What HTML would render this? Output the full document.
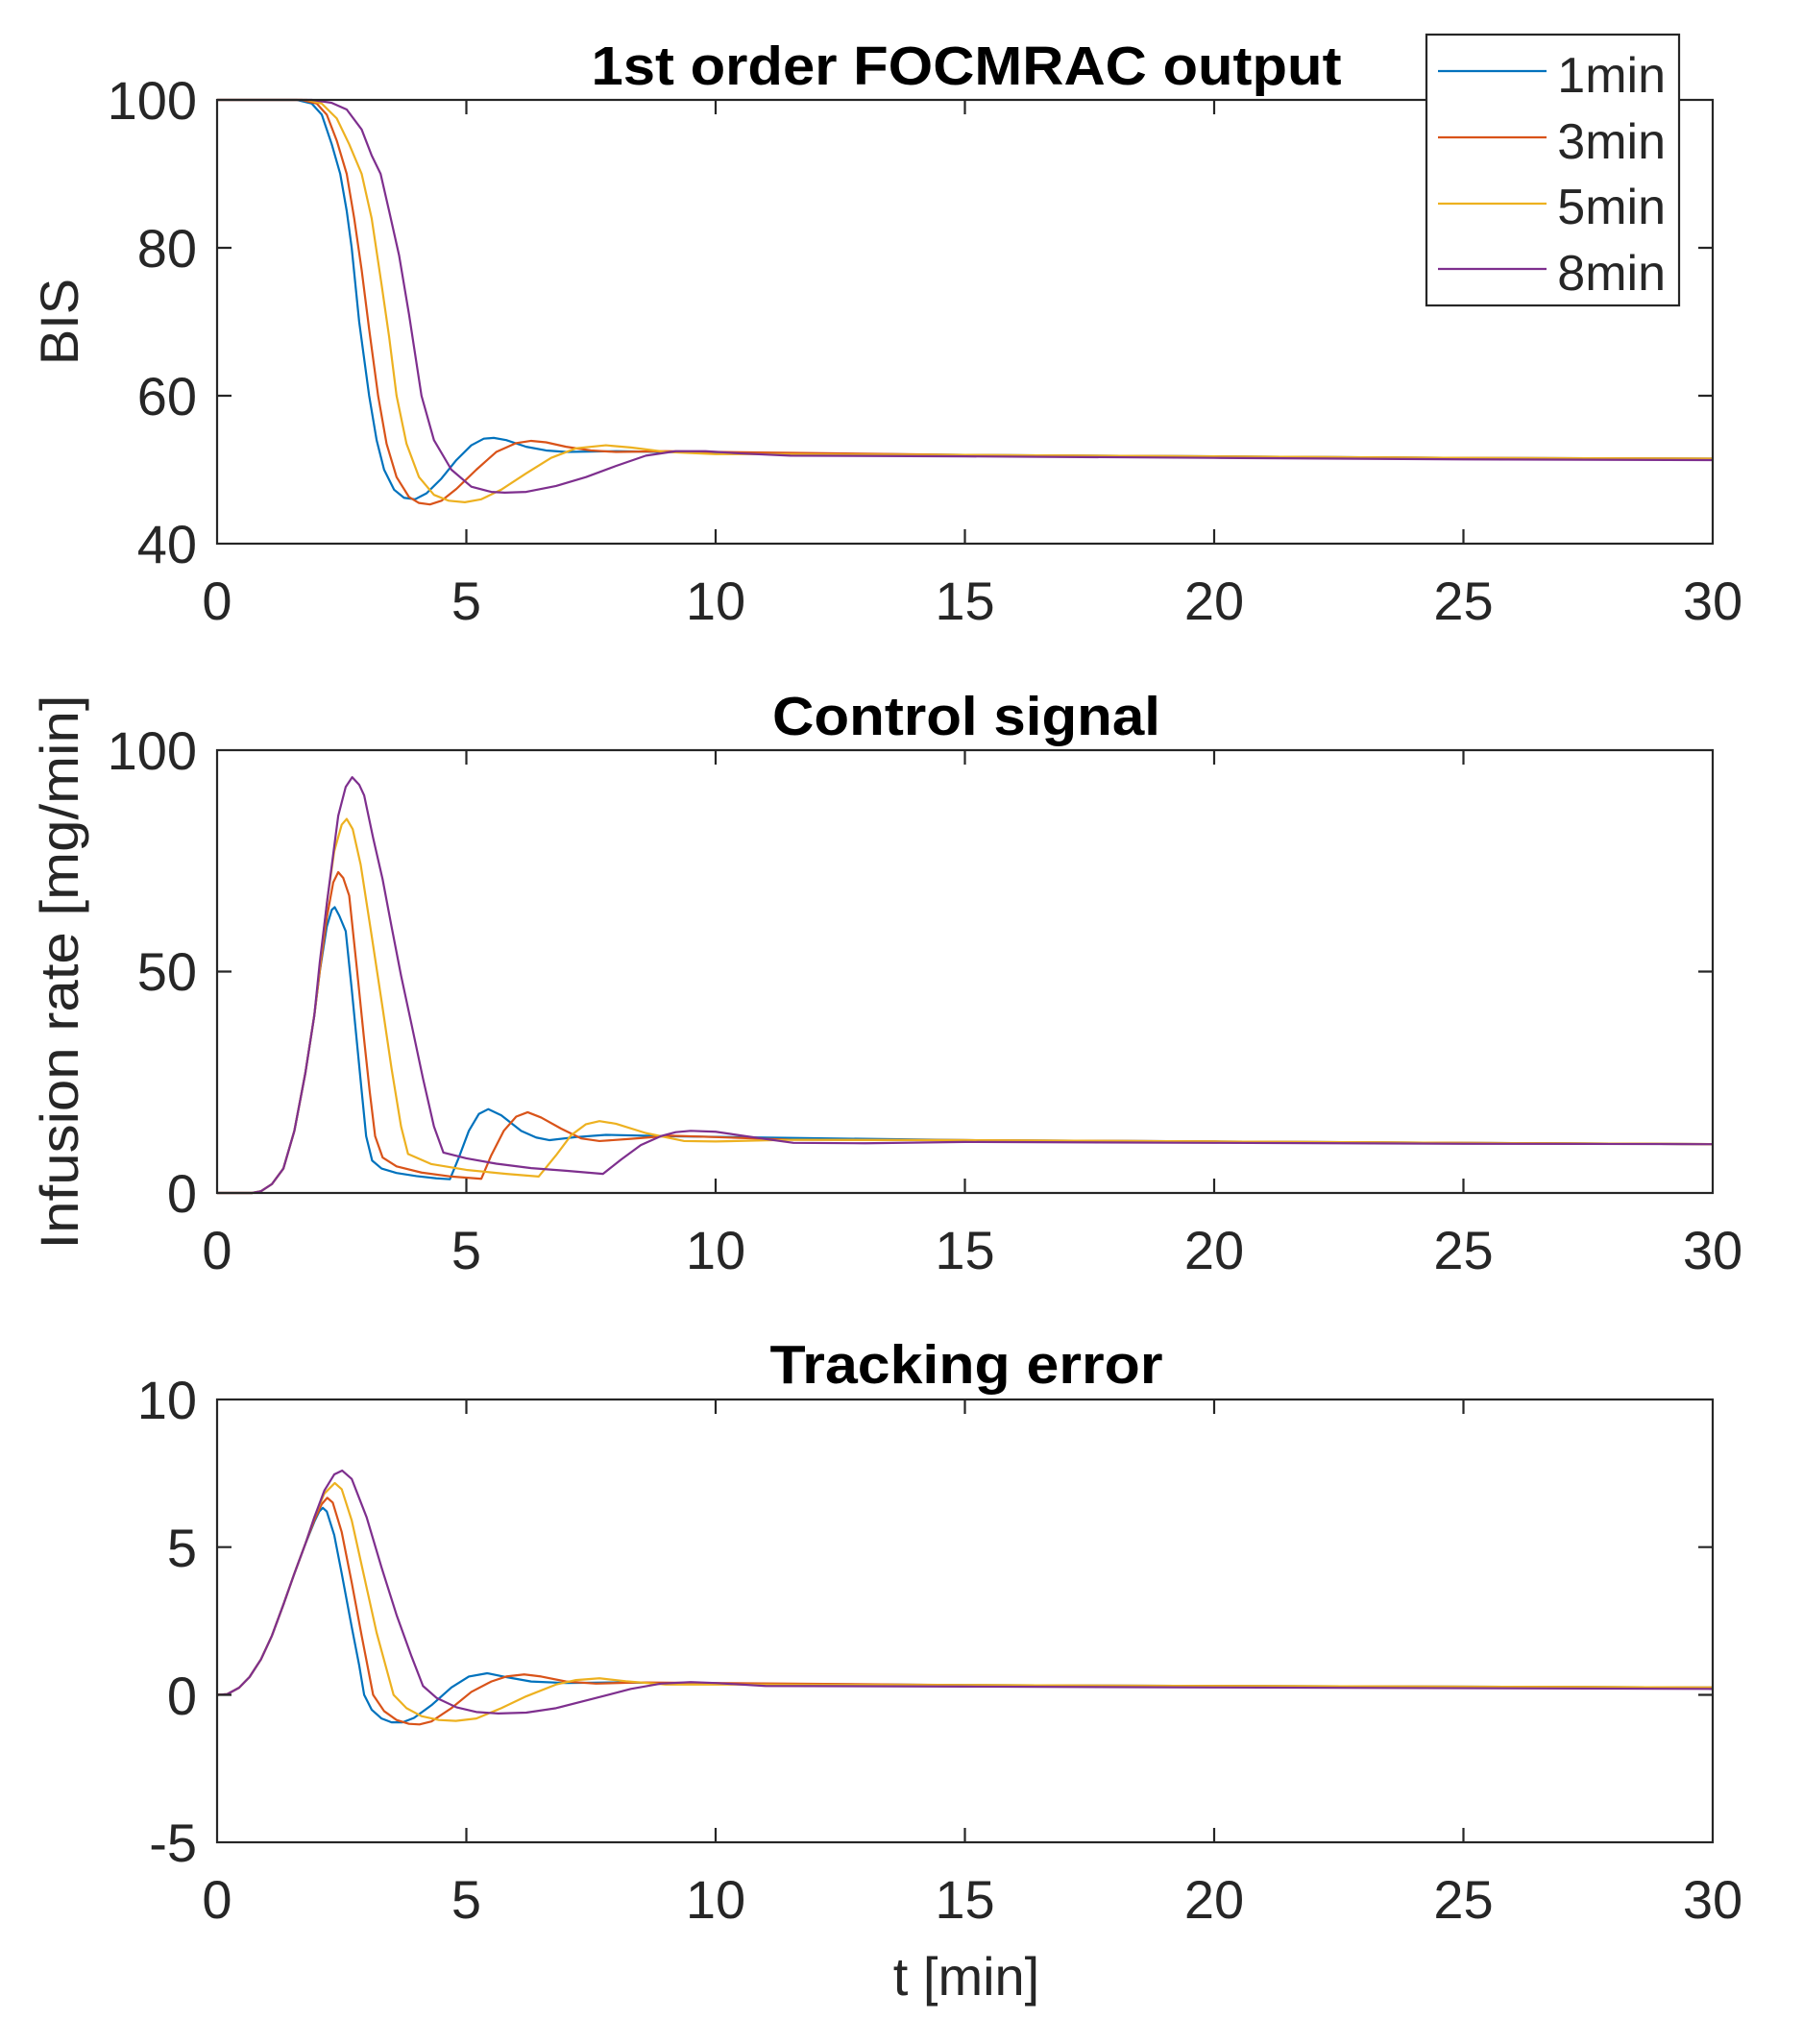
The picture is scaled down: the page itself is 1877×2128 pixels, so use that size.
<!DOCTYPE html>
<html><head><meta charset="utf-8"><style>
html,body{margin:0;padding:0;background:#fff;}
svg{display:block;}
text{font-family:"Liberation Sans",Arial,sans-serif;fill:#262626;}
.tk{font-size:56px;}
.tt{font-size:57px;font-weight:bold;fill:#000;}
.lg{font-size:52px;fill:#000;}
.ln{fill:none;stroke-width:2.2;vector-effect:non-scaling-stroke;stroke-linejoin:round;}
.b{stroke:#0072BD}.r{stroke:#D95319}.y{stroke:#EDB120}.p{stroke:#7E2F8E}
</style></head><body>
<svg width="1877" height="2128" viewBox="0 0 1877 2128" xmlns="http://www.w3.org/2000/svg">
<rect width="1877" height="2128" fill="#fff"/>

<g transform="translate(226,104) scale(51.9,-7.7) translate(0,-100)">
<polyline class="ln b" points="0,100 1.6,100 1.9,99.5 2.1,98 2.3,94 2.47,90 2.6,85 2.7,80 2.85,70 3.05,60 3.2,54 3.35,50 3.55,47.3 3.75,46.2 3.97,46 4.2,46.8 4.5,48.8 4.8,51.3 5.1,53.3 5.35,54.2 5.55,54.3 5.8,54 6.2,53.1 6.6,52.6 7,52.4 8,52.5 9,52.4 10,52.3 15,52 20,51.8 25,51.6 30,51.5"/>
<polyline class="ln r" points="0,100 1.7,100 2,99.5 2.2,98 2.4,94.5 2.6,90 2.75,84 2.9,77 3.05,69 3.23,60 3.4,53.5 3.6,49 3.85,46.3 4.05,45.5 4.27,45.3 4.5,45.8 4.8,47.4 5.2,50 5.6,52.4 6,53.6 6.3,53.9 6.6,53.7 7,53.1 7.5,52.6 8,52.4 9,52.5 10,52.4 15,52 20,51.8 25,51.6 30,51.5"/>
<polyline class="ln y" points="0,100 1.8,100 2.1,99.5 2.4,97.5 2.65,94 2.9,90 3.1,84 3.3,75 3.45,68 3.6,60 3.8,53.5 4.05,49 4.35,46.6 4.65,45.8 4.97,45.6 5.3,46 5.7,47.3 6.2,49.5 6.7,51.6 7.2,52.9 7.8,53.3 8.3,53 9,52.4 10,52.1 11,52.1 15,52 20,51.8 25,51.6 30,51.5"/>
<polyline class="ln p" points="0,100 1.9,100 2.3,99.6 2.6,98.7 2.9,96 3.1,92.5 3.28,90 3.45,85 3.65,79 3.85,71 4.1,60 4.35,54 4.7,50 5.1,47.7 5.5,47 5.77,46.9 6.2,47 6.8,47.8 7.4,49 8,50.5 8.6,51.9 9.2,52.5 9.8,52.5 10.5,52.2 11.5,51.9 15,51.8 20,51.6 25,51.4 30,51.3"/>
</g>

<g transform="translate(226,1242) scale(51.9,-4.62)">
<polyline class="ln b" points="0,0 0.7,0 0.88,0.4 1.1,2 1.33,5.5 1.55,14 1.77,27 1.95,40 2.06,50 2.2,60 2.3,63.8 2.36,64.4 2.45,62.5 2.58,59 2.7,46 2.8,34.5 2.9,23 2.99,12.8 3.11,7.3 3.3,5.5 3.6,4.5 4.0,3.8 4.4,3.3 4.67,3.1 4.85,8 5.05,14 5.25,17.8 5.44,18.9 5.7,17.5 6.1,14 6.4,12.5 6.67,11.9 7.2,12.6 7.8,13.1 9,12.8 11.56,12.4 15,11.9 20,11.6 25,11.3 30,11"/>
<polyline class="ln r" points="0,0 0.7,0 0.88,0.4 1.1,2 1.33,5.5 1.55,14 1.77,27 1.95,40 2.06,50 2.2,62 2.33,70 2.43,72.3 2.53,71 2.65,67 2.8,51 2.95,34.5 3.06,23 3.17,12.8 3.32,8 3.6,6 4.1,4.6 4.7,3.7 5.3,3.2 5.5,8.5 5.75,14 6.0,17.2 6.23,18.2 6.5,17 6.9,14.5 7.3,12.3 7.67,11.7 8.3,12.2 9.1,12.9 10,12.6 11.5,12 15,11.9 20,11.6 25,11.3 30,11"/>
<polyline class="ln y" points="0,0 0.7,0 0.88,0.4 1.1,2 1.33,5.5 1.55,14 1.77,27 1.95,40 2.06,51 2.21,66 2.35,77 2.5,83 2.6,84.3 2.72,82 2.88,74 3.1,58 3.32,41.7 3.5,28 3.69,15 3.83,8.8 4.3,6.5 5,5.2 5.8,4.3 6.45,3.7 6.8,8.5 7.1,13 7.4,15.5 7.67,16.2 8,15.6 8.6,13.5 9.37,11.7 10,11.6 11.56,12 15,11.9 20,11.6 25,11.3 30,11"/>
<polyline class="ln p" points="0,0 0.7,0 0.88,0.4 1.1,2 1.33,5.5 1.55,14 1.77,27 1.95,40 2.06,52 2.21,66 2.43,85 2.58,91.5 2.71,93.7 2.85,92 2.95,89.6 3.13,80 3.32,70.7 3.5,60 3.69,49 3.9,38 4.13,25.8 4.35,15 4.54,9.1 5,7.8 5.6,6.6 6.3,5.6 7,5 7.74,4.3 8.1,7.5 8.5,10.8 8.9,12.8 9.2,13.7 9.5,14 10,13.8 10.6,12.8 11.56,11.3 13,11.2 15,11.5 20,11.3 25,11.1 30,11"/>
</g>

<g transform="translate(226,1764.5) scale(51.9,-30.8)">
<polyline class="ln b" points="0,0 0.2,0.02 0.44,0.24 0.65,0.6 0.88,1.2 1.1,2 1.33,3.05 1.55,4.1 1.77,5.1 1.95,5.85 2.05,6.2 2.12,6.32 2.2,6.2 2.35,5.4 2.5,4.1 2.7,2.3 2.85,1 2.95,0 3.1,-0.5 3.3,-0.8 3.5,-0.93 3.72,-0.93 3.95,-0.78 4.3,-0.35 4.7,0.25 5.05,0.62 5.42,0.73 5.8,0.6 6.3,0.45 7,0.4 8,0.42 9,0.4 10,0.38 15,0.33 20,0.3 30,0.25"/>
<polyline class="ln r" points="0,0 0.2,0.02 0.44,0.24 0.65,0.6 0.88,1.2 1.1,2 1.33,3.05 1.55,4.1 1.77,5.1 1.95,5.9 2.1,6.45 2.21,6.66 2.32,6.5 2.5,5.5 2.7,3.8 2.9,2 3.13,0 3.35,-0.55 3.6,-0.85 3.85,-0.98 4.06,-1.0 4.3,-0.9 4.7,-0.45 5.1,0.1 5.5,0.45 5.8,0.62 6.16,0.69 6.5,0.62 7,0.45 7.6,0.38 8.5,0.42 10,0.4 15,0.33 20,0.3 30,0.25"/>
<polyline class="ln y" points="0,0 0.2,0.02 0.44,0.24 0.65,0.6 0.88,1.2 1.1,2 1.33,3.05 1.55,4.1 1.77,5.1 1.95,6 2.15,6.8 2.36,7.16 2.5,6.95 2.7,5.9 2.95,4 3.2,2.1 3.54,0 3.8,-0.45 4.1,-0.72 4.45,-0.85 4.79,-0.88 5.2,-0.8 5.7,-0.45 6.2,-0.05 6.8,0.35 7.2,0.5 7.67,0.56 8.2,0.46 9,0.35 10,0.35 15,0.33 20,0.3 30,0.25"/>
<polyline class="ln p" points="0,0 0.2,0.02 0.44,0.24 0.65,0.6 0.88,1.2 1.1,2 1.33,3.05 1.55,4.1 1.77,5.1 1.95,6 2.15,6.9 2.35,7.45 2.51,7.58 2.7,7.3 3,6 3.3,4.3 3.6,2.7 3.9,1.3 4.13,0.3 4.4,-0.1 4.8,-0.42 5.2,-0.58 5.64,-0.63 6.2,-0.6 6.8,-0.45 7.5,-0.15 8.3,0.2 8.9,0.38 9.5,0.43 10,0.4 11,0.3 15,0.28 20,0.25 30,0.2"/>
</g>

<g stroke="#262626" stroke-width="2.2" fill="none">
<rect x="226" y="104" width="1557" height="462"/>
<rect x="226" y="781" width="1557" height="461"/>
<rect x="226" y="1457" width="1557" height="461"/>
<path d="M485.5,566v-15M745,566v-15M1004.5,566v-15M1264,566v-15M1523.5,566v-15
M485.5,104v15M745,104v15M1004.5,104v15M1264,104v15M1523.5,104v15
M226,258h15M226,412h15M1783,258h-15M1783,412h-15
M485.5,1242v-15M745,1242v-15M1004.5,1242v-15M1264,1242v-15M1523.5,1242v-15
M485.5,781v15M745,781v15M1004.5,781v15M1264,781v15M1523.5,781v15
M226,1011.5h15M1783,1011.5h-15
M485.5,1918v-15M745,1918v-15M1004.5,1918v-15M1264,1918v-15M1523.5,1918v-15
M485.5,1457v15M745,1457v15M1004.5,1457v15M1264,1457v15M1523.5,1457v15
M226,1610.7h15M226,1764.5h15M1783,1610.7h-15M1783,1764.5h-15"/>
</g>

<g class="tk" text-anchor="middle">
<text x="226" y="645">0</text><text x="485.5" y="645">5</text><text x="745" y="645">10</text><text x="1004.5" y="645">15</text><text x="1264" y="645">20</text><text x="1523.5" y="645">25</text><text x="1783" y="645">30</text>
<text x="226" y="1321">0</text><text x="485.5" y="1321">5</text><text x="745" y="1321">10</text><text x="1004.5" y="1321">15</text><text x="1264" y="1321">20</text><text x="1523.5" y="1321">25</text><text x="1783" y="1321">30</text>
<text x="226" y="1997">0</text><text x="485.5" y="1997">5</text><text x="745" y="1997">10</text><text x="1004.5" y="1997">15</text><text x="1264" y="1997">20</text><text x="1523.5" y="1997">25</text><text x="1783" y="1997">30</text>
</g>
<g class="tk" text-anchor="end">
<text x="205" y="124">100</text><text x="205" y="278">80</text><text x="205" y="432">60</text><text x="205" y="586">40</text>
<text x="205" y="801">100</text><text x="205" y="1031">50</text><text x="205" y="1262">0</text>
<text x="205" y="1477">10</text><text x="205" y="1631">5</text><text x="205" y="1785">0</text><text x="205" y="1938">-5</text>
</g>

<text class="tt" x="1006" y="88" text-anchor="middle" textLength="781" lengthAdjust="spacingAndGlyphs">1st order FOCMRAC output</text>
<text class="tt" x="1006" y="765" text-anchor="middle" textLength="404" lengthAdjust="spacingAndGlyphs">Control signal</text>
<text class="tt" x="1006" y="1440" text-anchor="middle" textLength="409" lengthAdjust="spacingAndGlyphs">Tracking error</text>

<text class="tk" x="0" y="0" text-anchor="middle" transform="translate(81,335) rotate(-90)">BIS</text>
<text class="tk" x="0" y="0" text-anchor="middle" textLength="577" lengthAdjust="spacingAndGlyphs" transform="translate(81,1012) rotate(-90)">Infusion rate [mg/min]</text>
<text class="tk" x="1006" y="2077" text-anchor="middle">t [min]</text>

<rect x="1485" y="36" width="263" height="282" fill="#fff" stroke="#262626" stroke-width="2.2"/>
<g stroke-width="2.2">
<line x1="1497" y1="74" x2="1610" y2="74" stroke="#0072BD"/>
<line x1="1497" y1="143" x2="1610" y2="143" stroke="#D95319"/>
<line x1="1497" y1="212" x2="1610" y2="212" stroke="#EDB120"/>
<line x1="1497" y1="280" x2="1610" y2="280" stroke="#7E2F8E"/>
</g>
<g class="lg" text-anchor="end">
<text x="1734" y="96">1min</text><text x="1734" y="165">3min</text><text x="1734" y="233">5min</text><text x="1734" y="302">8min</text>
</g>
</svg>
</body></html>
